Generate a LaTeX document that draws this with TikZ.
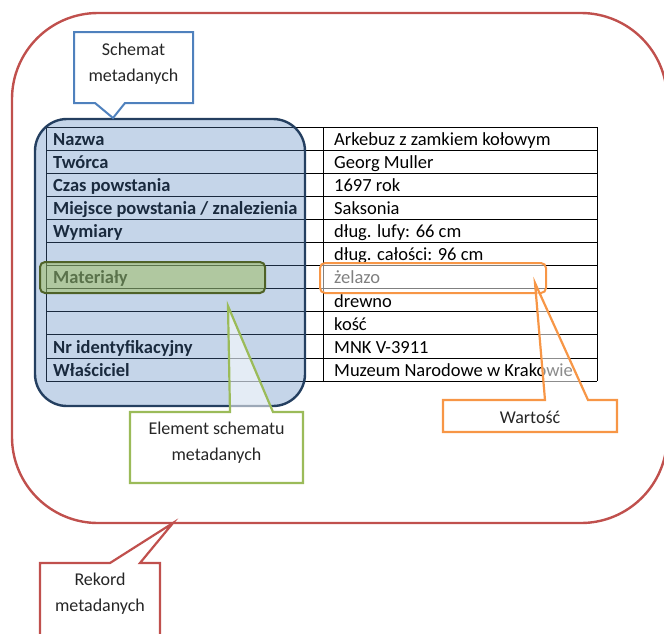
\documentclass[tikz,border=0pt]{standalone}
\usepackage{fontspec}
\setmainfont{Carlito}
\definecolor{recred}{HTML}{C0504D}
\definecolor{schblue}{HTML}{4F81BD}
\definecolor{boxnavy}{HTML}{243F60}
\definecolor{elgreen}{HTML}{9BBB59}
\definecolor{eldark}{HTML}{4F6228}
\definecolor{valorange}{HTML}{F79646}
\begin{document}
\begin{tikzpicture}[x=1pt,y=-1pt,
  tabtext/.style={anchor=base west,inner sep=0pt,font=\fontsize{18.5}{22}\selectfont},
  tablabel/.style={tabtext,font=\fontsize{18.5}{22}\selectfont\bfseries},
  calltext/.style={align=center,inner sep=0pt,font=\fontsize{18}{26}\selectfont,text=black!85},
  callshape/.style={line width=2.2pt,fill=white,fill opacity=0.55,line join=miter},
  tabline/.style={line width=0.9pt,black}
]
\useasboundingbox (0,0) rectangle (664,633);
% big record shape
\draw[recred,line width=2.4pt,rounded corners=86pt] (12,13) rectangle (667,523);
% table
\foreach \i in {0,...,11}{\draw[tabline] (46,{127+23.1*\i}) -- (597,{127+23.1*\i});}
\draw[tabline] (46,127) -- (46,381.1);
\draw[tabline] (323,127) -- (323,381.1);
\draw[tabline] (597,127) -- (597,381.1);
\def\rowbase#1{127+23.1*#1+18.3}
\node[tablabel] (l0) at (53,{\rowbase{0}}) {Nazwa};
\node[tablabel] (l1) at (53,{\rowbase{1}}) {Twórca};
\node[tablabel] (l2) at (53,{\rowbase{2}}) {Czas powstania};
\node[tablabel] (l3) at (53,{\rowbase{3}}) {Miejsce powstania / znalezienia};
\node[tablabel] (l4) at (53,{\rowbase{4}}) {Wymiary};
\node[tablabel] (l6) at (53,{\rowbase{6}}) {Materiały};
\node[tablabel] (l9) at (53,{\rowbase{9}}) {Nr identyfikacyjny};
\node[tablabel] (l10) at (53,{\rowbase{10}}) {Właściciel};
\node[tabtext] (v0) at (334,{\rowbase{0}}) {Arkebuz z zamkiem kołowym};
\node[tabtext] (v1) at (334,{\rowbase{1}}) {Georg Muller};
\node[tabtext] (v2) at (334,{\rowbase{2}}) {1697 rok};
\node[tabtext] (v3) at (334,{\rowbase{3}}) {Saksonia};
\node[tabtext] (v4) at (334,{\rowbase{4}}) {dług. lufy: 66 cm};
\node[tabtext] (v5) at (334,{\rowbase{5}}) {dług. całości: 96 cm};
\node[tabtext] (v6) at (334,{\rowbase{6}}) {żelazo};
\node[tabtext] (v7) at (334,{\rowbase{7}}) {drewno};
\node[tabtext] (v8) at (334,{\rowbase{8}}) {kość};
\node[tabtext] (v9) at (334,{\rowbase{9}}) {MNK V-3911};
\node[tabtext] (v10) at (334,{\rowbase{10}}) {Muzeum Narodowe w Krakowie};
% schema box
\draw[boxnavy,line width=2.4pt,fill=schblue,fill opacity=0.33,rounded corners=32pt] (35,119) rectangle (305,406);
% element highlight
\draw[eldark,line width=2pt,fill=elgreen,fill opacity=0.5,rounded corners=5pt] (40,262) rectangle (265,293);
% value highlight
\draw[valorange,line width=2pt,fill=white,fill opacity=0.5,rounded corners=5pt] (320,263) rectangle (546,293);
% callout: Schemat metadanych
\coordinate (schtip) at (113,118);
\draw[callshape,draw=schblue,line width=2pt] (74,32) -- (193,32) -- (193,103) -- (125,103) -- (schtip) -- (95,103) -- (74,103) -- cycle;
\node[calltext] (sch) at (133.5,64) {Schemat\\metadanych};
% callout: Element schematu metadanych
\coordinate (eltip) at (228,306);
\draw[callshape,draw=elgreen] (130,412) -- (230,412) -- (eltip) -- (273,412) -- (303,412) -- (303,483) -- (130,483) -- cycle;
\node[calltext] (el) at (216.5,443) {Element schematu\\metadanych};
% callout: Wartość
\coordinate (valtip) at (535,283);
\draw[callshape,draw=valorange] (443,400) -- (545,400) -- (valtip) -- (588,400) -- (617,400) -- (617,432) -- (443,432) -- cycle;
\node[calltext] (val) at (530,417) {Wartość};
% callout: Rekord metadanych
\coordinate (rectip) at (173,523);
\draw[callshape,draw=recred] (40,563) -- (110,563) -- (rectip) -- (140,563) -- (160,563) -- (160,660) -- (40,660) -- cycle;
\node[calltext] (rec) at (100,594) {Rekord\\metadanych};
\end{tikzpicture}
\end{document}
